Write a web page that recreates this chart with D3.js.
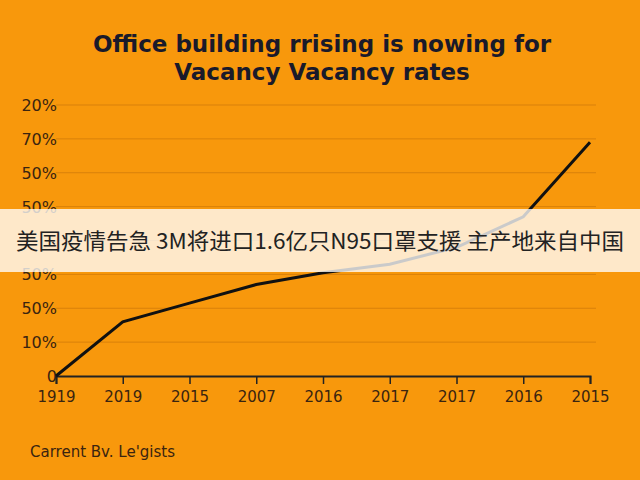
<!DOCTYPE html>
<html><head><meta charset="utf-8">
<script src="https://cdn.jsdelivr.net/npm/d3@7"></script>
<style>body{margin:0}svg{display:block}</style>
</head><body>
<script>
const years = ["1919","2019","2015","2007","2016","2017","2017","2016","2015"];
const values = [0, 1.6, 2.15, 2.7, 3.05, 3.3, 3.8, 4.7, 6.9];
const tickLabels = ["0","10%","50%","50%","","50%","50%","70%","20%"];

const width = 640, height = 480;
const margin = {top: 105, right: 50, bottom: 104, left: 56};

const svg = d3.select("body").append("svg").attr("width", width).attr("height", height);
svg.append("rect").attr("width", width).attr("height", height).attr("fill", "#f8980c");

const x = d3.scalePoint().domain(d3.range(years.length))
    .range([margin.left, width - 50]);
const y = d3.scaleLinear().domain([0, 8]).range([height - margin.bottom, margin.top]);

svg.append("g").selectAll("line").data(d3.range(1, 9)).join("line")
    .attr("x1", margin.left).attr("x2", 596)
    .attr("y1", d => y(d)).attr("y2", d => y(d))
    .attr("stroke", "#d9800a").attr("stroke-width", 1);

svg.append("g").selectAll("text").data(tickLabels).join("text")
    .attr("x", 57).attr("y", (d, i) => y(i) + 6)
    .attr("text-anchor", "end")
    .attr("font-family", "DejaVu Sans").attr("font-size", 16)
    .attr("fill", "#3a2410").text(d => d);

svg.append("g")
    .attr("transform", `translate(0,${y(0)})`)
    .call(d3.axisBottom(x).tickSize(8).tickFormat(i => years[i]))
    .call(g => g.select(".domain").attr("stroke", "#222").attr("stroke-width", 2))
    .call(g => g.selectAll(".tick line").attr("stroke", "#222").attr("stroke-width", 1.5))
    .call(g => g.selectAll(".tick text").attr("dy", 15).attr("font-family", "DejaVu Sans")
        .attr("font-size", 15).attr("fill", "#3a2410"));

svg.append("path").datum(values)
    .attr("fill", "none").attr("stroke", "#111").attr("stroke-width", 3)
    .attr("d", d3.line().x((d, i) => x(i)).y(d => y(d)));

const title = svg.append("text").attr("text-anchor", "middle")
    .attr("font-family", "DejaVu Sans").attr("font-weight", "bold")
    .attr("font-size", 23).attr("fill", "#1a1a2a");
title.append("tspan").attr("x", 322).attr("y", 52).text("Office building rrising is nowing for");
title.append("tspan").attr("x", 322).attr("y", 80).text("Vacancy Vacancy rates");

svg.append("text").attr("x", 30).attr("y", 457)
    .attr("font-family", "DejaVu Sans").attr("font-size", 15)
    .attr("fill", "#3a2410").text("Carrent Bv. Le'gists");

svg.append("rect").attr("x", 0).attr("y", 209).attr("width", width).attr("height", 63)
    .attr("fill", "#fff").attr("opacity", 0.78);
svg.append("text").attr("x", 320).attr("y", 249).attr("text-anchor", "middle")
    .attr("font-family", "Noto Sans CJK SC").attr("font-size", 22).attr("fill", "#222")
    .attr("textLength", 608).attr("lengthAdjust", "spacingAndGlyphs")
    .text("美国疫情告急 3M将进口1.6亿只N95口罩支援 主产地来自中国");
</script>
</body></html>
